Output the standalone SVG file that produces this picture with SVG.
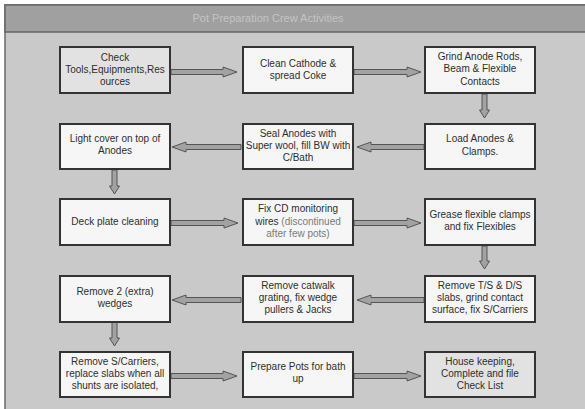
<svg xmlns="http://www.w3.org/2000/svg" width="585" height="409" viewBox="0 0 585 409">
  <defs>
    <style>
      .box { stroke: #333; stroke-width: 2; fill: #f6f6f6; }
      .box.soft { fill: #e2e2e2; }
      .lbl { font-family: "Liberation Sans", Arial, sans-serif; font-size: 10px; fill: #2e2e2e; text-anchor: middle; }
      .dim { fill: #7a7a7a; }
      .arr { fill: #a2a2a2; stroke: #555; stroke-width: 1; stroke-linejoin: miter; }
      .title { font-family: "Liberation Sans", Arial, sans-serif; font-size: 11px; fill: #c4c4c4; text-anchor: middle; }
    </style>
  </defs>

  <!-- page background -->
  <rect x="0" y="0" width="585" height="409" fill="#ffffff"/>
  <!-- frame body -->
  <rect x="5" y="5" width="595" height="420" fill="#c9c9c9" stroke="#6a6a6a" stroke-width="1.5"/>
  <!-- title bar -->
  <rect x="5" y="5" width="595" height="27" fill="#a0a0a0" stroke="#666" stroke-width="1.5"/>
  <text class="title" x="268" y="22">Pot Preparation Crew Activities</text>

  <!-- connectors -->
  <g id="connectors">
    <!-- row 1, rightwards -->
    <polygon class="arr" points="171,69.5 223,69.5 223,67 237,72 223,77 223,74.5 171,74.5"/>
    <polygon class="arr" points="354,69.5 407,69.5 407,67 421,72 407,77 407,74.5 354,74.5"/>
    <!-- down to row 2 -->
    <polygon class="arr" points="482,94 487,94 487,110 489.5,110 484.5,118 479.5,110 482,110"/>
    <!-- row 2, leftwards -->
    <polygon class="arr" points="424,144.5 371,144.5 371,142 357,147 371,152 371,149.5 424,149.5"/>
    <polygon class="arr" points="241,144.5 186,144.5 186,142 172,147 186,152 186,149.5 241,149.5"/>
    <!-- down to row 3 -->
    <polygon class="arr" points="112,170 117,170 117,186 119.5,186 114.5,194 109.5,186 112,186"/>
    <!-- row 3, rightwards -->
    <polygon class="arr" points="171,220.5 224,220.5 224,218 238,223 224,228 224,225.5 171,225.5"/>
    <polygon class="arr" points="354,220.5 407,220.5 407,218 421,223 407,228 407,225.5 354,225.5"/>
    <!-- down to row 4 -->
    <polygon class="arr" points="482,246 487,246 487,261 489.5,261 484.5,269 479.5,261 482,261"/>
    <!-- row 4, leftwards -->
    <polygon class="arr" points="424,297.5 371,297.5 371,295 357,300 371,305 371,302.5 424,302.5"/>
    <polygon class="arr" points="241,297.5 186,297.5 186,295 172,300 186,305 186,302.5 241,302.5"/>
    <!-- down to row 5 -->
    <polygon class="arr" points="112,322 117,322 117,338 119.5,338 114.5,346 109.5,338 112,338"/>
    <!-- row 5, rightwards -->
    <polygon class="arr" points="171,373.5 223,373.5 223,371 237,376 223,381 223,378.5 171,378.5"/>
    <polygon class="arr" points="354,373.5 407,373.5 407,371 421,376 407,381 407,378.5 354,378.5"/>
  </g>

  <!-- row 1 -->
  <g id="check-tools">
    <rect class="box soft" x="60" y="47" width="110" height="46"/>
    <text class="lbl" x="115" y="61">Check</text>
    <text class="lbl" x="115" y="73">Tools,Equipments,Res</text>
    <text class="lbl" x="115" y="85">ources</text>
  </g>
  <g id="clean-cathode">
    <rect class="box" x="243" y="47" width="110" height="46"/>
    <text class="lbl" x="298" y="67">Clean Cathode &amp;</text>
    <text class="lbl" x="298" y="79">spread Coke</text>
  </g>
  <g id="grind-anode">
    <rect class="box" x="425" y="47" width="110" height="46"/>
    <text class="lbl" x="480" y="60">Grind Anode Rods,</text>
    <text class="lbl" x="480" y="72">Beam &amp; Flexible</text>
    <text class="lbl" x="480" y="85">Contacts</text>
  </g>

  <!-- row 2 -->
  <g id="load-anodes">
    <rect class="box" x="425" y="124" width="110" height="45"/>
    <text class="lbl" x="480" y="142">Load Anodes &amp;</text>
    <text class="lbl" x="480" y="155">Clamps.</text>
  </g>
  <g id="seal-anodes">
    <rect class="box" x="243" y="124" width="110" height="45"/>
    <text class="lbl" x="298" y="137">Seal Anodes with</text>
    <text class="lbl" x="298" y="149">Super wool, fill BW with</text>
    <text class="lbl" x="298" y="161">C/Bath</text>
  </g>
  <g id="light-cover">
    <rect class="box" x="60" y="124" width="110" height="45"/>
    <text class="lbl" x="115" y="142">Light cover on top of</text>
    <text class="lbl" x="115" y="154">Anodes</text>
  </g>

  <!-- row 3 -->
  <g id="deck-plate">
    <rect class="box" x="60" y="199" width="110" height="46"/>
    <text class="lbl" x="115" y="225">Deck plate cleaning</text>
  </g>
  <g id="fix-cd">
    <rect class="box" x="243" y="199" width="110" height="46"/>
    <text class="lbl" x="298" y="212">Fix CD monitoring</text>
    <text class="lbl" x="298" y="225">wires <tspan class="dim">(discontinued</tspan></text>
    <text class="lbl dim" x="298" y="237">after few pots)</text>
  </g>
  <g id="grease-clamps">
    <rect class="box" x="425" y="199" width="110" height="46"/>
    <text class="lbl" x="480" y="218">Grease flexible clamps</text>
    <text class="lbl" x="480" y="230">and fix Flexibles</text>
  </g>

  <!-- row 4 -->
  <g id="remove-ts-ds">
    <rect class="box" x="425" y="276" width="110" height="46"/>
    <text class="lbl" x="480" y="289">Remove T/S &amp; D/S</text>
    <text class="lbl" x="480" y="301">slabs, grind contact</text>
    <text class="lbl" x="480" y="313">surface, fix S/Carriers</text>
  </g>
  <g id="remove-catwalk">
    <rect class="box" x="243" y="276" width="110" height="46"/>
    <text class="lbl" x="298" y="289">Remove catwalk</text>
    <text class="lbl" x="298" y="301">grating, fix wedge</text>
    <text class="lbl" x="298" y="313">pullers &amp; Jacks</text>
  </g>
  <g id="remove-wedges">
    <rect class="box" x="60" y="276" width="110" height="46"/>
    <text class="lbl" x="115" y="295">Remove 2 (extra)</text>
    <text class="lbl" x="115" y="307">wedges</text>
  </g>

  <!-- row 5 -->
  <g id="remove-carriers">
    <rect class="box" x="60" y="352" width="110" height="45"/>
    <text class="lbl" x="115" y="365">Remove S/Carriers,</text>
    <text class="lbl" x="115" y="377">replace slabs when all</text>
    <text class="lbl" x="115" y="389">shunts are isolated,</text>
  </g>
  <g id="prepare-pots">
    <rect class="box" x="243" y="352" width="110" height="45"/>
    <text class="lbl" x="298" y="370">Prepare Pots for bath</text>
    <text class="lbl" x="298" y="382">up</text>
  </g>
  <g id="house-keeping">
    <rect class="box soft" x="425" y="352" width="110" height="45"/>
    <text class="lbl" x="480" y="365">House keeping,</text>
    <text class="lbl" x="480" y="377">Complete and file</text>
    <text class="lbl" x="480" y="389">Check List</text>
  </g>
</svg>
